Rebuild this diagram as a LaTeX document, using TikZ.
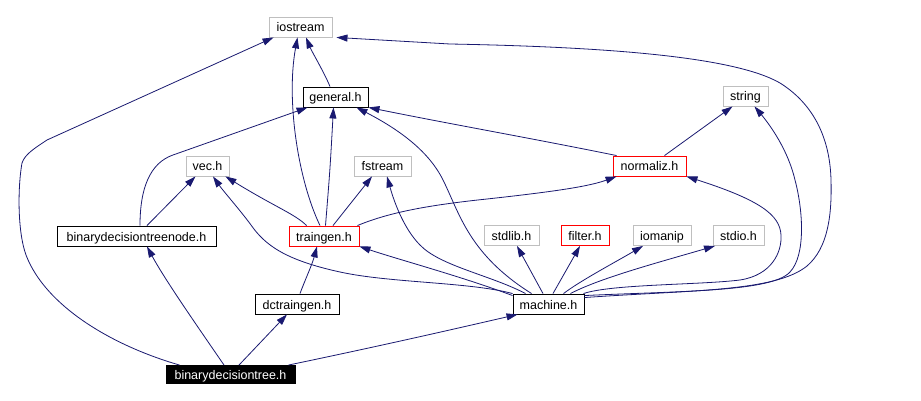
\documentclass[tikz,border=0pt]{standalone}
\usepackage{fontspec}
\setmainfont{Liberation Sans}
\usetikzlibrary{arrows.meta,calc}
\definecolor{edgeblue}{HTML}{191970}
\definecolor{boxgrey}{HTML}{BFBFBF}
\begin{document}
\begin{tikzpicture}[x=1pt,y=-1pt,
  box/.style={draw=black, text=black, line width=0.9pt, minimum height=20pt, inner sep=0pt,
    font=\fontsize{12.5}{14}\selectfont, text height=10pt, text depth=0pt, fill=white},
  greybox/.style={box, draw=boxgrey},
  redbox/.style={box, draw=red},
  blackbox/.style={box, fill=black, text=white, minimum height=18pt},
  e/.style={draw=edgeblue, line width=0.8pt, -{Triangle[length=11pt,width=7pt]}}
]
\path[use as bounding box, fill=white] (0,0) rectangle (921,401);

% nodes
\node[greybox, minimum width=63pt] (iostream) at (300.5,27) {iostream};
\node[box, minimum width=65pt] (general) at (335.5,97) {general.h};
\node[greybox, minimum width=45pt] (string) at (745.5,96) {string};
\node[redbox, minimum width=73pt] (normaliz) at (649.5,166) {normaliz.h};
\node[greybox, minimum width=43pt] (vec) at (207.5,166) {vec.h};
\node[greybox, minimum width=57pt] (fstream) at (382.5,166) {fstream};
\node[box, minimum width=159pt] (bdtn) at (136.5,236) {binarydecisiontreenode.h};
\node[redbox, minimum width=70pt] (traingen) at (324,236) {traingen.h};
\node[greybox, minimum width=55pt] (stdlib) at (511.5,235.5) {stdlib.h};
\node[redbox, minimum width=48pt] (filter) at (585,235.5) {filter.h};
\node[greybox, minimum width=58pt] (iomanip) at (662,235.5) {iomanip};
\node[greybox, minimum width=51pt] (stdio) at (738.5,235.5) {stdio.h};
\node[box, minimum width=71pt] (machine) at (548.5,304) {machine.h};
\node[box, minimum width=84pt] (dctraingen) at (297,304) {dctraingen.h};
\node[blackbox, minimum width=129pt] (bdt) at (230.5,374.5) {binarydecisiontree.h};

% edges
% general -> iostream
\draw[e] ($(general.north)+(-5.5,0)$) .. controls (324,72) and (312,52) .. ($(iostream.south)+(5.5,0)$);
% traingen -> iostream
\draw[e] ($(traingen.north)+(-4,0)$) .. controls (298,180) and (286,100) .. ($(iostream.south)+(-3,0)$);
% bdt -> iostream
\draw[e] ($(bdt.north west)+(14,0)$) .. controls (110,345) and (45,305) .. (26,255)
   .. controls (17,230) and (18,185) .. (22,163)
   .. controls (25,154) and (35,148) .. (47,140) -- ($(iostream.south west)+(5,0)$);
% machine -> iostream
\draw[e] ($(machine.north east)+(0,4)$) .. controls (690,290) and (775,292) .. (807,266)
   .. controls (828,248) and (832,215) .. (831,180)
   .. controls (830,140) and (815,105) .. (780,83)
   .. controls (735,57) and (610,47) .. (450,44) -- ($(iostream.south east)+(4,0)$);
% bdtn -> general
\draw[e] ($(bdtn.north)+(3.5,0)$) .. controls (140,188) and (150,163) .. (173,155) -- ($(general.south west)+(5,0)$);
% traingen -> general
\draw[e] ($(traingen.north)+(1.5,0)$) .. controls (330,170) .. ($(general.south)+(-2,0)$);
% machine -> general
\draw[e] ($(machine.north west)+(19,0)$) .. controls (470,255) and (460,215) .. (444,182)
   .. controls (430,152) and (400,130) .. ($(general.south east)+(-12,0)$);
% normaliz -> general
\draw[e] ($(normaliz.north west)+(4,0)$) .. controls (530,138) and (450,124) .. (general.south east);
% normaliz -> string
\draw[e] ($(normaliz.north)+(15,0)$) -- ($(string.south)+(-13,0)$);
% machine -> string
\draw[e] ($(machine.north east)+(0,2)$) .. controls (680,291) and (772,292) .. (790,272)
   .. controls (806,255) and (803,210) .. (795,180)
   .. controls (788,150) and (770,125) .. ($(string.south)+(9,0)$);
% machine -> normaliz
\draw[e] ($(machine.north east)+(-1,0)$) .. controls (612,284) and (700,285) .. (740,280)
   .. controls (772,275) and (782,252) .. (781,235)
   .. controls (780,215) and (760,200) .. (normaliz.south east);
% bdtn -> vec
\draw[e] ($(bdtn.north)+(10.5,0)$) -- ($(vec.south)+(-12,0)$);
% traingen -> vec
\draw[e] ($(traingen.north west)+(18,0)$) .. controls (295,214) and (275,207) .. ($(vec.south east)+(-4,0)$);
% machine -> vec
\draw[e] ($(machine.north west)+(0,0)$) .. controls (470,282) and (390,283) .. (340,272)
   .. controls (285,260) and (265,245) .. (251,225)
   .. controls (240,210) and (224,192) .. ($(vec.south)+(5.5,0)$);
% traingen -> fstream
\draw[e] ($(traingen.north)+(9,0)$) -- ($(fstream.south)+(-10.5,0)$);
% machine -> fstream
\draw[e] ($(machine.north west)+(13,0)$) .. controls (490,275) and (440,266) .. (420,245)
   .. controls (405,230) and (395,205) .. ($(fstream.south)+(4.5,0)$);
% traingen -> normaliz
\draw[e] ($(traingen.north east)+(-2,0)$) .. controls (390,212) and (430,205) .. (487,199)
   .. controls (560,191) and (590,186) .. ($(normaliz.south west)+(4,0)$);
% machine -> traingen
\draw[e] ($(machine.north west)+(0,2)$) .. controls (460,276) and (400,260) .. (traingen.south east);
% dctraingen -> traingen
\draw[e] ($(dctraingen.north)+(3,0)$) .. controls (305,280) and (312,265) .. ($(traingen.south)+(-7,0)$);
% machine -> stdlib / filter / iomanip / stdio
\draw[e] ($(machine.north)+(-5.5,0)$) -- ($(stdlib.south)+(5.5,0)$);
\draw[e] ($(machine.north)+(4.5,0)$) -- ($(filter.south)+(-5,0)$);
\draw[e] ($(machine.north)+(15,0)$) .. controls (580,281) and (612,264) .. ($(iomanip.south)+(-19,0)$);
\draw[e] ($(machine.north)+(22,0)$) .. controls (600,278) and (660,262) .. ($(stdio.south)+(-23.5,0)$);
% bdt -> bdtn / dctraingen / machine
\draw[e] ($(bdt.north)+(-6.5,0)$) .. controls (200,330) and (165,280) .. ($(bdtn.south)+(10.5,0)$);
\draw[e] ($(bdt.north)+(8.5,0)$) -- ($(dctraingen.south)+(-10,0)$);
\draw[e] ($(bdt.north east)+(-7,0)$) .. controls (380,346) and (450,330) .. ($(machine.south west)+(5,0)$);
\end{tikzpicture}
\end{document}
